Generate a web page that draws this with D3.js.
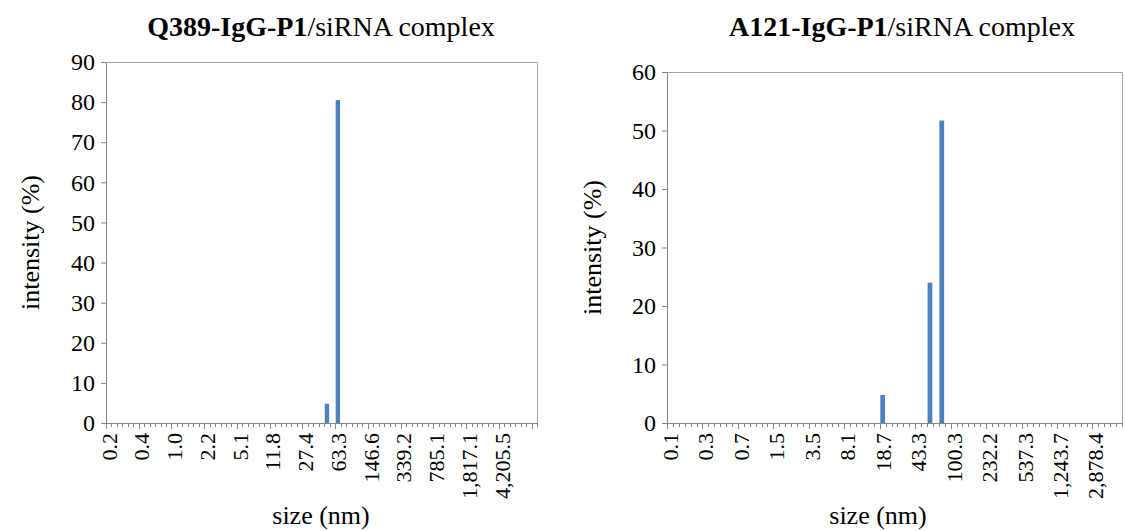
<!DOCTYPE html>
<html>
<head>
<meta charset="utf-8">
<script src="https://cdn.jsdelivr.net/npm/d3@7"></script>
<style>
  body { margin: 0; background: #fff; }
  svg { display: block; }
  text, tspan { font-family: "Liberation Serif", "Times New Roman", serif; fill: #000; }
</style>
</head>
<body>
<div id="app"></div>
<script>
// size bins (nm), one label shown every 6 bins
const leftTickLabels = ["0.2", "0.4", "1.0", "2.2", "5.1", "11.8", "27.4", "63.3", "146.6", "339.2", "785.1", "1,817.1", "4,205.5"];
const rightTickLabels = ["0.1", "0.3", "0.7", "1.5", "3.5", "8.1", "18.7", "43.3", "100.3", "232.2", "537.3", "1,243.7", "2,878.4"];
const binsPerLabel = 6;
const leftBinCount = 79;
const rightBinCount = 77;

// non-zero bins (bin index) and intensity (%)
const leftBins = [40, 42];
const leftValues = [4.8, 80.5];
const rightBins = [36, 44, 46];
const rightValues = [4.8, 24.0, 51.7];

const serif = '"Liberation Serif", "Times New Roman", serif';

const svg = d3.select('#app').append('svg')
  .attr('width', 1125)
  .attr('height', 531);

const panels = [
  { bold: 'Q389-IgG-P1', rest: '/siRNA complex', labels: leftTickLabels, n: leftBinCount,
    bins: leftBins, values: leftValues, ymax: 90,
    x0: 106, x1: 537, y0: 62, y1: 423, titleX: 321, ylabX: 30, xlabX: 321 },
  { bold: 'A121-IgG-P1', rest: '/siRNA complex', labels: rightTickLabels, n: rightBinCount,
    bins: rightBins, values: rightValues, ymax: 60,
    x0: 667, x1: 1122, y0: 72, y1: 423, titleX: 902, ylabX: 592, xlabX: 878 }
];

panels.forEach(p => {
  const cats = d3.range(p.n);
  const xb = d3.scaleBand().domain(cats).range([p.x0, p.x1]);
  const y = d3.scaleLinear().domain([0, p.ymax]).range([p.y1, p.y0]);

  const g = svg.append('g');

  // title
  const t = g.append('text')
    .attr('x', p.titleX).attr('y', 36)
    .attr('text-anchor', 'middle')
    .style('font-family', serif)
    .style('font-size', '28px');
  t.append('tspan').style('font-family', serif).style('font-weight', 'bold').text(p.bold);
  t.append('tspan').style('font-family', serif).text(p.rest);

  // plot border (top and right)
  g.append('path')
    .attr('d', `M${p.x0},${p.y0 + 0.5}H${p.x1 + 0.5}V${p.y1}`)
    .attr('fill', 'none').attr('stroke', '#a6a6a6').attr('stroke-width', 1);

  // bars
  const data = p.bins.map((b, i) => ({ bin: b, value: p.values[i] }));
  g.selectAll('rect').data(data).enter().append('rect')
    .attr('x', d => xb(d.bin) + xb.bandwidth() * 0.1)
    .attr('width', xb.bandwidth() * 0.8)
    .attr('y', d => y(d.value))
    .attr('height', d => y(0) - y(d.value))
    .attr('fill', '#4f81bd');

  // y axis
  const yAxis = g.append('g')
    .attr('transform', `translate(${p.x0},0)`)
    .call(d3.axisLeft(y).ticks(p.ymax / 10).tickSize(5).tickPadding(6));
  yAxis.select('.domain').attr('stroke', '#868686');
  yAxis.selectAll('.tick line').attr('stroke', '#868686');
  yAxis.selectAll('.tick text').style('font-size', '24px').style('font-family', serif);

  // x axis: tick at every bin boundary
  const edges = d3.range(p.n + 1);
  const xg = g.append('g');
  xg.append('line')
    .attr('x1', p.x0).attr('x2', p.x1)
    .attr('y1', p.y1 + 0.5).attr('y2', p.y1 + 0.5)
    .attr('stroke', '#868686');
  xg.selectAll('line.tk').data(edges).enter().append('line')
    .attr('class', 'tk')
    .attr('x1', i => Math.round(p.x0 + i * xb.step()) + 0.5)
    .attr('x2', i => Math.round(p.x0 + i * xb.step()) + 0.5)
    .attr('y1', p.y1)
    .attr('y2', i => p.y1 + (i % binsPerLabel === 0 ? 6 : 4))
    .attr('stroke', '#868686');

  // x labels, rotated
  xg.selectAll('text').data(p.labels).enter().append('text')
    .attr('transform', (d, i) => `translate(${xb(i * binsPerLabel) + xb.bandwidth() / 2 + 8},${p.y1 + 10}) rotate(-90)`)
    .attr('text-anchor', 'end')
    .style('font-size', '22px')
    .text(d => d);

  // axis titles
  g.append('text')
    .attr('transform', `translate(${p.ylabX + 9},${(p.y0 + p.y1) / 2}) rotate(-90)`)
    .attr('text-anchor', 'middle')
    .style('font-size', '26px')
    .text('intensity (%)');
  g.append('text')
    .attr('x', p.xlabX).attr('y', 524)
    .attr('text-anchor', 'middle')
    .style('font-size', '26px')
    .text('size (nm)');
});
</script>
</body>
</html>
